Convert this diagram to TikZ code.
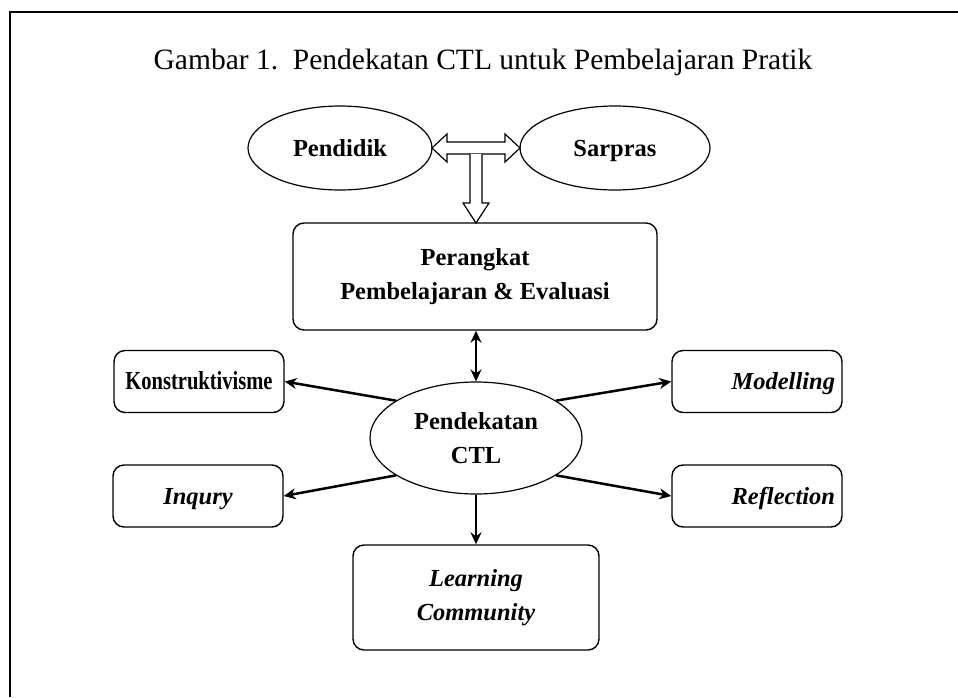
\documentclass[tikz,border=0pt]{standalone}
\usepackage{fontspec}
\setmainfont{Liberation Serif}
\newfontfamily\condensedserif[FakeStretch=0.79]{Liberation Serif}
\usetikzlibrary{shapes.geometric,arrows.meta}
\begin{document}
\begin{tikzpicture}[x=1pt,y=-1pt,
  lbl/.style={font=\fontsize{24.5}{34}\selectfont\bfseries, align=center, inner sep=0pt},
  ilbl/.style={font=\fontsize{24.5}{34}\selectfont\bfseries\itshape, align=center, inner sep=0pt},
  oneline/.style={text height=16.5pt, text depth=0pt},
  oval/.style={ellipse, draw, line width=1.2pt},
  rbox/.style={draw, rounded corners=11pt, line width=1.4pt},
  sidebox/.style={rbox, minimum width=170pt, minimum height=62pt},
  rightbox/.style={sidebox, ilbl, oneline, text width=156pt, align=right, inner xsep=7pt},
  conn/.style={line width=2.5pt, -{Stealth[length=12pt,width=11pt]}},
  biconn/.style={line width=2.5pt, {Stealth[length=12pt,width=11pt]}-{Stealth[length=12pt,width=11pt]}},
  hollow/.style={draw, line width=1.2pt, fill=white}]
\useasboundingbox (0,0) rectangle (958,697);
% frame (left and top edges only visible)
\draw[line width=2pt] (10,697) -- (10,12) -- (958,12);
% title
\node[font=\fontsize{29.5}{32}\selectfont, inner sep=0pt] (title) at (483,62) {Gambar 1.\ \ Pendekatan CTL untuk Pembelajaran Pratik};
% top ellipses
\node[oval, lbl, oneline, minimum width=184pt, minimum height=84pt] (pend) at (340,148) {Pendidik};
\node[oval, lbl, oneline, minimum width=190pt, minimum height=84pt] (sar) at (615,148) {Sarpras};
% hollow arrows
\coordinate (hl) at (432,148);
\coordinate (hr) at (520,148);
\coordinate (vt) at (476,223);
\draw[hollow] (hl) -- ++(15,-14) -- ++(0,8) -- ++(58,0) -- ++(0,-8) -- (hr) -- ++(-15,14) -- ++(0,-8) -- ++(-58,0) -- ++(0,8) -- cycle;
\draw[hollow] (470,154) -- (470,203) -- (463,203) -- (vt) -- (489,203) -- (482,203) -- (482,154);
% boxes
\node[rbox, lbl, minimum width=364pt, minimum height=107pt] (per) at (475,276.5) {Perangkat\\Pembelajaran \& Evaluasi};
\node[oval, lbl, minimum width=212pt, minimum height=112pt] (ctl) at (476,438) {Pendekatan\\CTL};
\node[sidebox, lbl, oneline, font=\fontsize{26}{34}\selectfont] (kon) at (199,381.5) {\condensedserif\bfseries Konstruktivisme};
\node[sidebox, ilbl, oneline] (inq) at (198,496) {Inqury};
\node[rightbox] (mod) at (757,381.5) {Modelling};
\node[rightbox] (ref) at (757,496) {Reflection};
\node[rbox, ilbl, minimum width=246pt, minimum height=105pt] (lc) at (476,597.5) {Learning\\Community};
% connectors
\draw[biconn] (per.south -| ctl.north) -- (ctl.north);
\draw[conn] (ctl.155) -- (kon.east);
\draw[conn] (ctl.25) -- (mod.west);
\draw[conn] (ctl.205) -- (inq.east);
\draw[conn] (ctl.-25) -- (ref.west);
\draw[conn] (ctl.south) -- (lc.north);
\end{tikzpicture}
\end{document}
